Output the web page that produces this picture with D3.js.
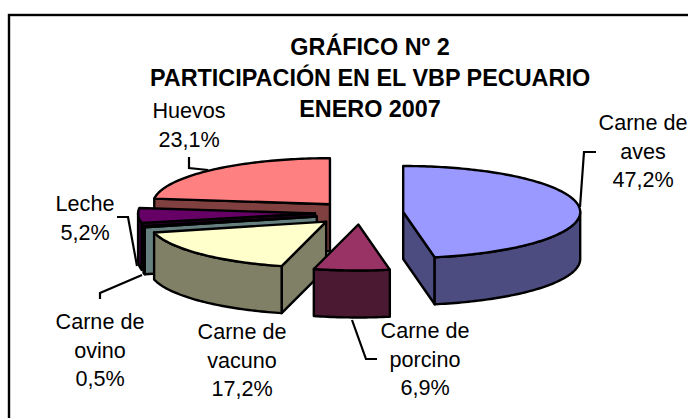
<!DOCTYPE html>
<meta charset="utf-8" />
<title>Gráfico Nº 2</title>
<style>
  body { margin: 0; background: #fff; overflow: hidden; }
  svg { display: block; }
  text { font-family: "Liberation Sans", Arial, sans-serif; fill: #000; }
  .title { font-size: 23.4px; font-weight: bold; }
  .label { font-size: 21.6px; }
</style>
<body>
  <svg width="688" height="418"></svg>

  <script src="https://d3js.org/d3.v7.min.js"></script>
  <script>
    const categories = ["Carne de aves", "Carne de porcino", "Carne de vacuno", "Carne de ovino", "Leche", "Huevos"];
    const values = [47.2, 6.9, 17.2, 0.5, 5.2, 23.1];
    const valueLabels = ["47,2%", "6,9%", "17,2%", "0,5%", "5,2%", "23,1%"];
    const titleLines = ["GRÁFICO Nº 2", "PARTICIPACIÓN EN EL VBP PECUARIO", "ENERO 2007"];

    const topColors = ["#9999ff", "#993366", "#ffffcc", "#ccffff", "#660066", "#ff8080"];
    const sideColors = ["#4c4c80", "#4c1933", "#808066", "#668080", "#330033", "#804040"];
    const explode = [0.245, 0.25, 0.268, 0.25, 0.254, 0.256];
    const shiftY = [0, 0, 0, 1, 0, 0];

    // label block position (centre x, first baseline) and leader polyline per slice
    const labelPos = [[643, 130], [425, 338], [242, 339], [100, 329], [85, 211], [189, 118]];
    const labelLines = [
      ["Carne de", "aves"], ["Carne de", "porcino"], ["Carne de", "vacuno"],
      ["Carne de", "ovino"], ["Leche"], ["Huevos"]
    ];
    const leaders = [
      [[596, 152], [584, 152], [580, 207]],
      [[352, 320], [366, 359], [377, 359]],
      [],
      [[100, 299], [100, 293], [142, 275]],
      [[117, 217], [128, 217], [137, 266]],
      [[189, 157], [189, 168], [208, 170]]
    ];

    const svg = d3.select("svg");
    const rx = 177, ry = 46, depth = 47, cx = 360, cy = 213;

    svg.append("rect")
      .attr("x", 9).attr("y", 15)
      .attr("width", 700).attr("height", 420)
      .attr("fill", "#fff").attr("stroke", "#000").attr("stroke-width", 2.4);

    const slices = d3.pie().sort(null)(values);

    // angle 0 is 12 o'clock, going clockwise
    const px = (c, a) => c.x + rx * Math.sin(a);
    const py = (c, a) => c.y - ry * Math.cos(a);

    function arcPoints(c, a0, a1, dy) {
      const n = Math.max(2, Math.ceil(Math.abs(a1 - a0) / 0.02));
      return d3.range(n + 1).map(i => {
        const a = a0 + (a1 - a0) * i / n;
        return [px(c, a), py(c, a) + dy];
      });
    }

    const line = d3.line();
    const chart = svg.append("g")
      .attr("stroke", "#000").attr("stroke-width", 2.4).attr("stroke-linejoin", "round");

    // back to front, so nearer slices cover the others
    [5, 4, 3, 2, 1, 0].forEach(i => {
      const s = slices[i];
      const mid = (s.startAngle + s.endAngle) / 2;
      const c = {
        x: cx + explode[i] * rx * Math.sin(mid),
        y: cy - explode[i] * ry * Math.cos(mid) + shiftY[i]
      };
      const apex = [c.x, c.y];
      const rim0 = [px(c, s.startAngle), py(c, s.startAngle)];
      const rim1 = [px(c, s.endAngle), py(c, s.endAngle)];
      const g = chart.append("g");

      const radial = rim => [apex, rim, [rim[0], rim[1] + depth], [apex[0], apex[1] + depth]];
      if (Math.sin(s.startAngle) < -1e-6) {
        g.append("path").attr("d", line(radial(rim0)) + "Z").attr("fill", sideColors[i]);
      }
      if (Math.sin(s.endAngle) > 1e-6) {
        g.append("path").attr("d", line(radial(rim1)) + "Z").attr("fill", sideColors[i]);
      }

      // outer wall only on the front half of the ellipse
      const w0 = Math.max(s.startAngle, Math.PI / 2);
      const w1 = Math.min(s.endAngle, 3 * Math.PI / 2);
      if (w1 > w0) {
        const upper = arcPoints(c, w0, w1, 0);
        const lower = arcPoints(c, w1, w0, depth);
        g.append("path").attr("d", line(upper.concat(lower)) + "Z").attr("fill", sideColors[i]);
      }

      g.append("path")
        .attr("d", line([apex].concat(arcPoints(c, s.startAngle, s.endAngle, 0))) + "Z")
        .attr("fill", topColors[i]);
    });

    svg.append("g").selectAll("path")
      .data(leaders.filter(d => d.length))
      .join("path")
      .attr("d", d => line(d))
      .attr("fill", "none").attr("stroke", "#000").attr("stroke-width", 2.2);

    svg.append("g").selectAll("text")
      .data(titleLines)
      .join("text")
      .attr("class", "title")
      .attr("text-anchor", "middle")
      .attr("x", 370)
      .attr("y", (d, i) => 55 + i * 31)
      .text(d => d);

    categories.forEach((name, i) => {
      const rows = labelLines[i].concat(valueLabels[i]);
      svg.append("g").selectAll("text")
        .data(rows)
        .join("text")
        .attr("class", "label")
        .attr("text-anchor", "middle")
        .attr("x", labelPos[i][0])
        .attr("y", (d, j) => labelPos[i][1] + j * 28.5)
        .text(d => d);
    });
  </script>
</body>
